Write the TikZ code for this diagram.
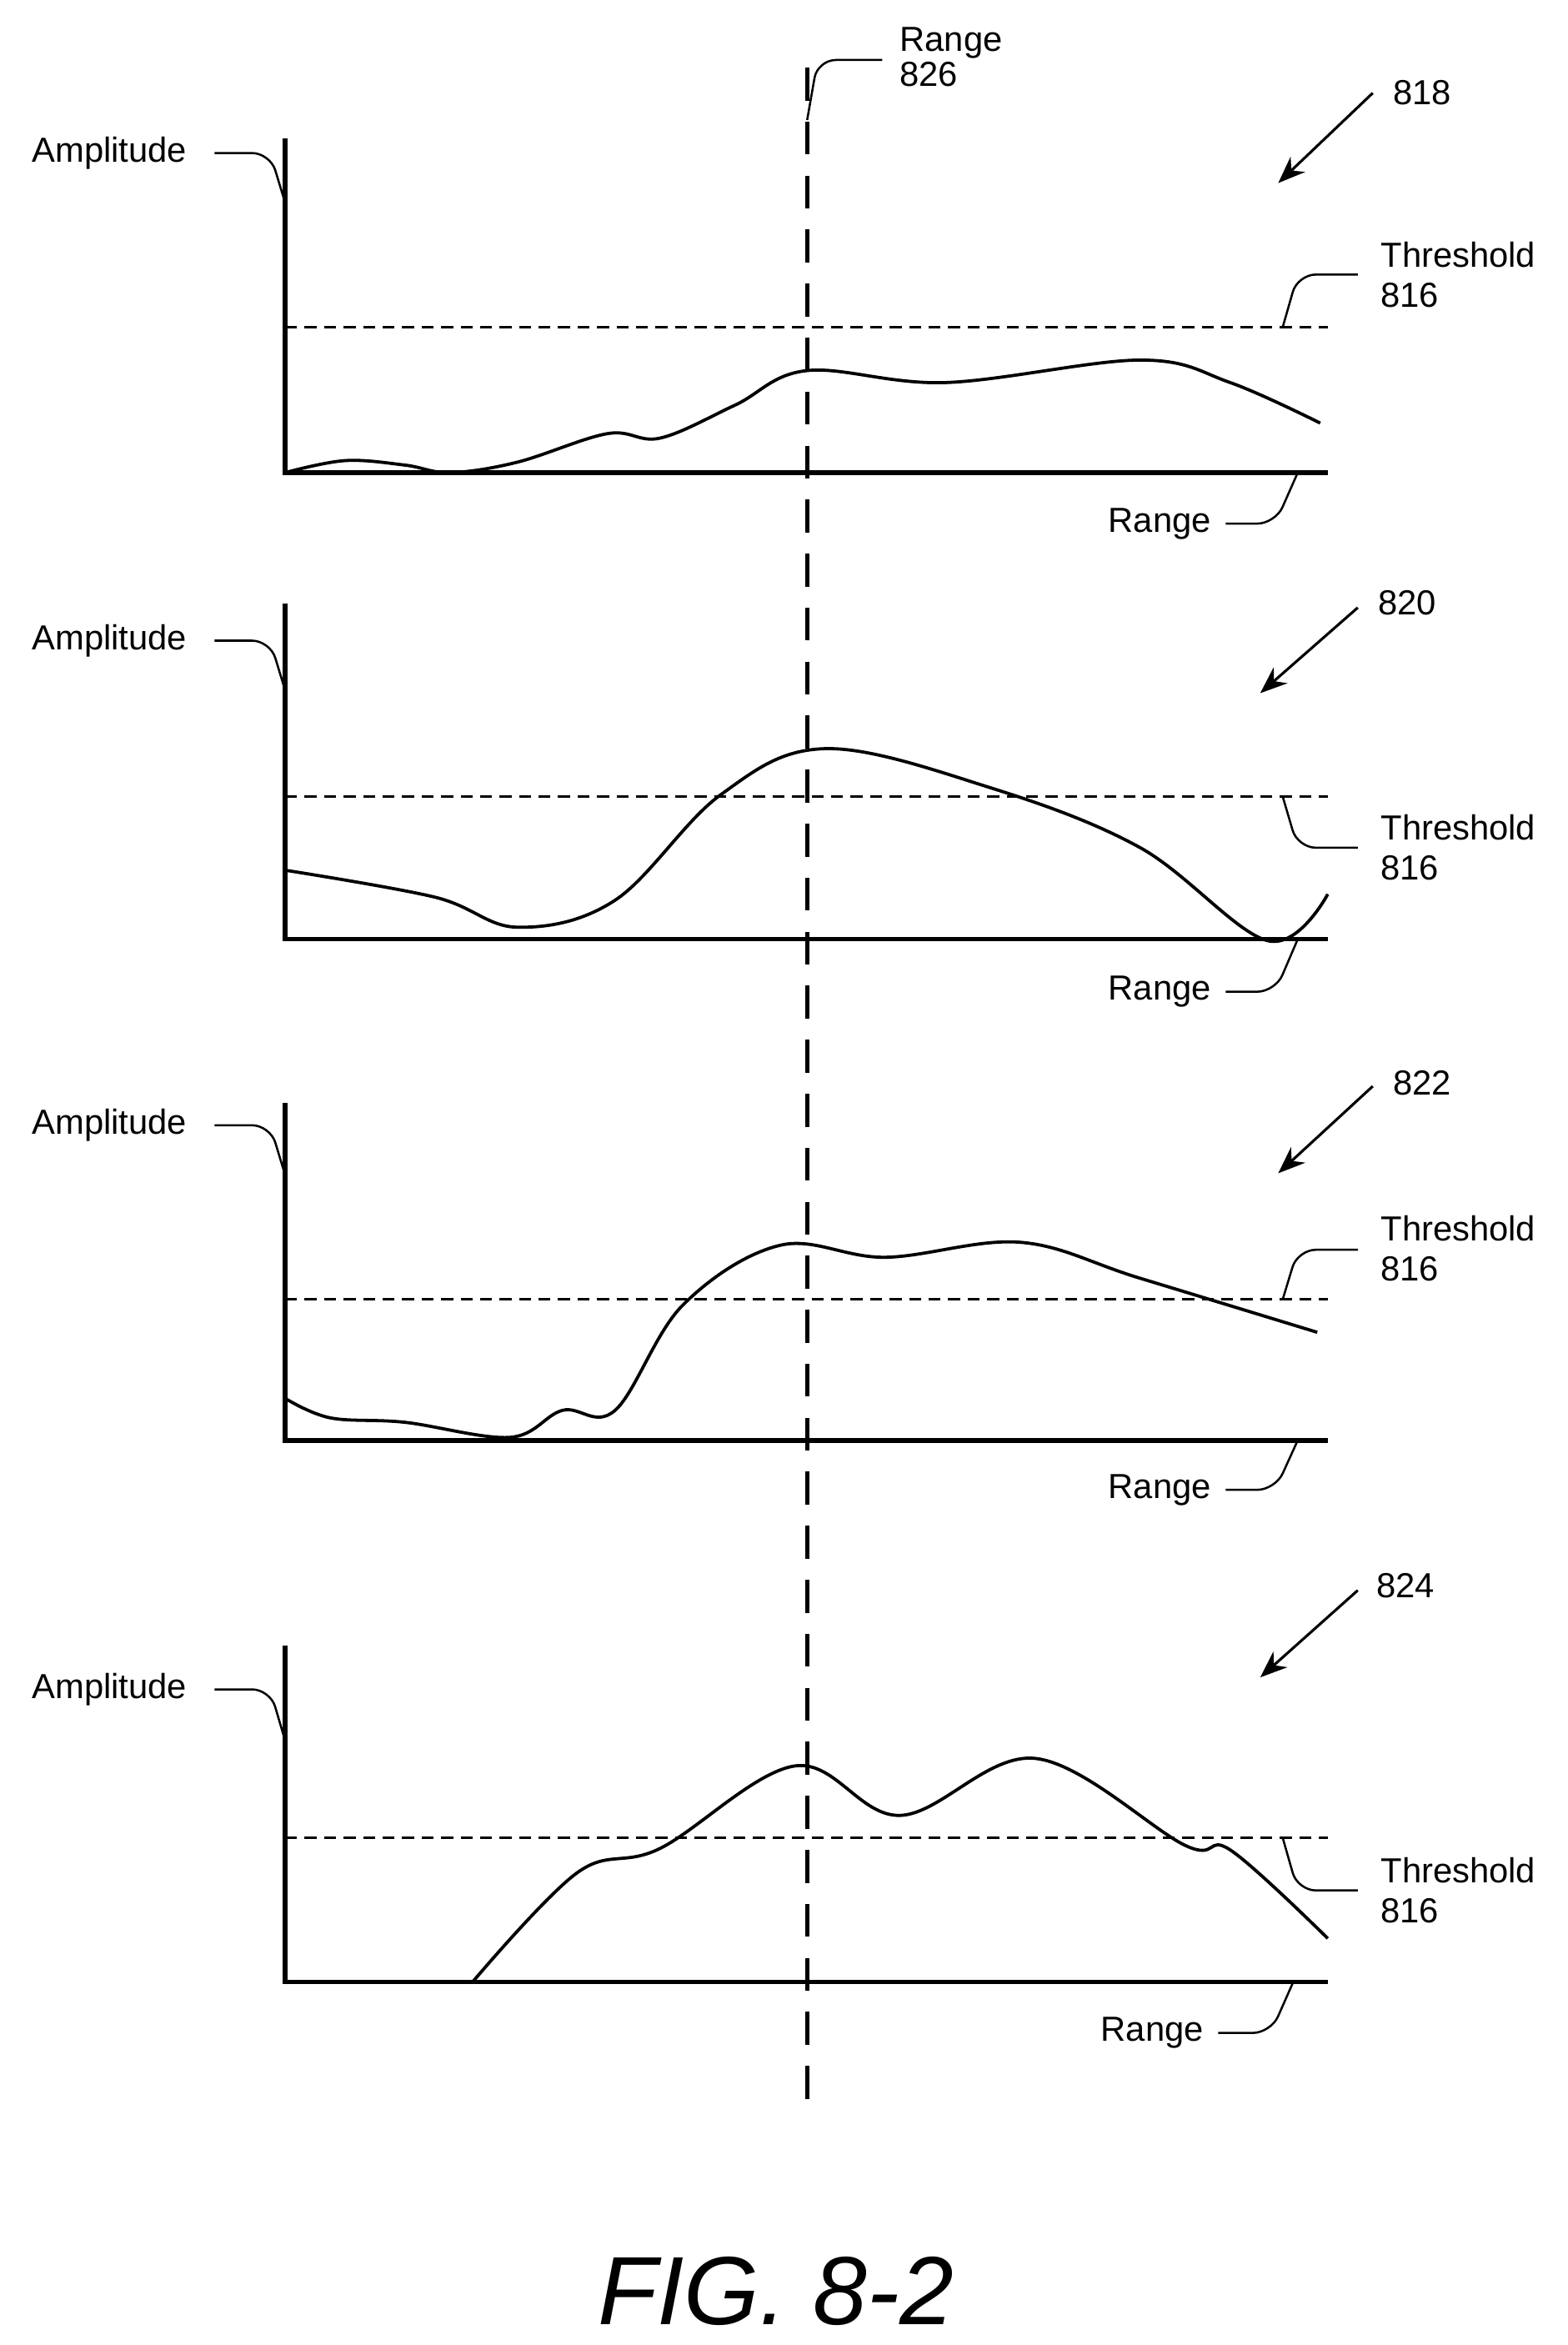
\documentclass[tikz,border=0pt]{standalone}
\usepackage{fontspec}
\setmainfont{Liberation Sans}
\usetikzlibrary{arrows.meta}

\begin{document}
\begin{tikzpicture}[x=0.05cm,y=-0.05cm,line width=3pt]
  \tikzset{every node/.style={font=\fontsize{33}{38}\selectfont},
    axis/.style={line width=4.5pt},
    thr/.style={dashed,line width=2pt,dash pattern=on 0.4cm off 0.25cm},
    lead/.style={line width=2pt,rounded corners=0.6cm},
    refarrow/.style={line width=2.5pt,-{Stealth[length=0.9cm,width=0.7cm]}}}
  \useasboundingbox (0,0) rectangle (1045,1563);

  % range marker
  \coordinate (rtop) at (538,45);
  \coordinate (rbot) at (538,1400);
  \draw[line width=4pt,dash pattern=on 1.1cm off 0.7cm] (rtop) -- (rbot);
  \node (rlab) at (634,38) {\shortstack[l]{Range\\826}};
  \coordinate (rl) at (538,80);
  \draw[lead] (rl) -- (545,40) -- (588,40);

  % panel 818
  \coordinate (o1) at (190,315);
  \draw[axis] (190,92) -- (o1) -- (885,315);
  \draw[thr] (190,218) -- (885,218);
  \draw plot[smooth,tension=0.6] coordinates {(190,315) (230,307) (270,310) (300,315) (345,308) (405,289) (440,292) (490,270) (538,247) (630,255) (760,240) (820,255) (880,282)};
  \node (amp1) at (73,102) {Amplitude};
  \draw[lead] (143,102) -- (180,102) -- (190,135);
  \node (rng1) at (773,349) {Range};
  \draw[lead] (817,349) -- (850,349) -- (865,315);
  \node[align=left] (thr1) at (972,183) {Threshold\\816};
  \draw[lead] (855,218) -- (865,183) -- (905,183);
  \node (n818) at (948,62) {818};
  \draw[refarrow] (915,62) -- (852,122);

  % panel 820
  \draw[axis] (190,402) -- (190,626) -- (885,626);
  \draw[thr] (190,531) -- (885,531);
  \draw plot[smooth,tension=0.6] coordinates {(190,580) (290,598) (345,618) (410,600) (480,530) (550,499) (660,525) (760,565) (845,627) (885,596)};
  \node (amp2) at (73,427) {Amplitude};
  \draw[lead] (143,427) -- (180,427) -- (190,460);
  \node (rng2) at (773,661) {Range};
  \draw[lead] (817,661) -- (850,661) -- (865,626);
  \node[align=left] (thr2) at (972,565) {Threshold\\816};
  \draw[lead] (855,531) -- (865,565) -- (905,565);
  \node (n820) at (938,402) {820};
  \draw[refarrow] (905,405) -- (840,462);

  % panel 822
  \draw[axis] (190,735) -- (190,960) -- (885,960);
  \draw[thr] (190,866) -- (885,866);
  \draw plot[smooth,tension=0.6] coordinates {(190,932) (220,945) (270,948) (340,958) (375,940) (410,940) (455,870) (520,830) (590,838) (680,828) (760,852) (878,888)};
  \node (amp3) at (73,750) {Amplitude};
  \draw[lead] (143,750) -- (180,750) -- (190,783);
  \node (rng3) at (773,993) {Range};
  \draw[lead] (817,993) -- (850,993) -- (865,960);
  \node[align=left] (thr3) at (972,832) {Threshold\\816};
  \draw[lead] (855,866) -- (865,833) -- (905,833);
  \node (n822) at (948,722) {822};
  \draw[refarrow] (915,724) -- (852,782);

  % panel 824
  \draw[axis] (190,1097) -- (190,1321) -- (885,1321);
  \draw[thr] (190,1225) -- (885,1225);
  \draw plot[smooth,tension=0.6] coordinates {(315,1321) (385,1248) (440,1232) (530,1177) (600,1210) (690,1172) (790,1230) (820,1233) (885,1292)};
  \node (amp4) at (73,1126) {Amplitude};
  \draw[lead] (143,1126) -- (180,1126) -- (190,1160);
  \node (rng4) at (768,1355) {Range};
  \draw[lead] (812,1355) -- (847,1355) -- (862,1321);
  \node[align=left] (thr4) at (972,1260) {Threshold\\816};
  \draw[lead] (855,1225) -- (865,1260) -- (905,1260);
  \node (n824) at (937,1057) {824};
  \draw[refarrow] (905,1060) -- (840,1118);

  \node[font=\fontsize{92}{100}\selectfont\itshape] (fig) at (517,1527) {FIG. 8-2};
\end{tikzpicture}
\end{document}
